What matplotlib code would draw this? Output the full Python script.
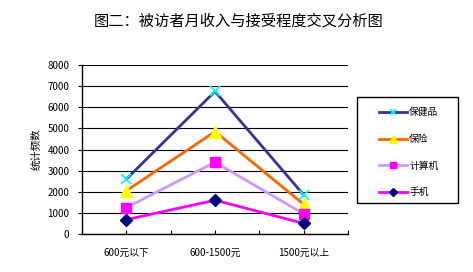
import matplotlib.pyplot as plt
from matplotlib.patches import Rectangle
import numpy as np

plt.rcParams['font.family'] = ['Noto Sans CJK SC', 'DejaVu Sans']

categories = ['600元以下', '600-1500元', '1500元以上']
health = [2600, 6750, 1850]
insurance = [2050, 4850, 1400]
computer = [1250, 3400, 950]
phone = [680, 1600, 500]

W, H = 473, 272
fig = plt.figure(figsize=(W / 100, H / 100), dpi=100)
ax = fig.add_axes([82 / W, 1 - 234 / H, 266 / W, 169 / H])

x = np.arange(len(categories))
ax.plot(x, health, color='#333399', lw=2, marker='x', ms=7, mec='#00FFFF', mew=1.2, label='保健品')
ax.plot(x, insurance, color='#FF6600', lw=2, marker='^', ms=8, mfc='#FFFF00', mec='#FFFF00', label='保险')
ax.plot(x, computer, color='#CC99FF', lw=2, marker='s', ms=7, mfc='#FF00FF', mec='#FF00FF', label='计算机')
ax.plot(x, phone, color='#FF00FF', lw=2, marker='D', ms=6, mfc='#000080', mec='#000080', label='手机')

ax.set_xlim(-0.5, 2.5)
ax.set_ylim(0, 8000)
ax.set_yticks(range(0, 8001, 1000))
ax.tick_params(axis='y', labelsize=7, length=3, width=0.8, pad=6)
ax.set_xticks(x)
ax.set_xticklabels(categories)
ax.set_xticks(np.arange(-0.5, 2.6, 1), minor=True)
ax.tick_params(axis='x', which='both', direction='in', length=3, width=0.8, labelsize=7, pad=10)
ax.yaxis.grid(True, color='black', lw=0.8)
ax.set_axisbelow(True)
for side in ['top', 'right']:
    ax.spines[side].set_visible(False)
for side in ['left', 'bottom']:
    ax.spines[side].set_linewidth(1)

ax.set_ylabel('统计频数', fontsize=7.5, labelpad=4)

fig.suptitle('图二：被访者月收入与接受程度交叉分析图', x=0.505, y=0.955, fontsize=11)

# legend box drawn separately so the padding can be wider than the entries need
fig.patches.append(Rectangle((357 / W, 1 - 203 / H), 101 / W, 106 / H, transform=fig.transFigure,
                             fill=False, edgecolor='black', lw=1))
fig.legend(loc='upper left', bbox_to_anchor=(379 / W, 1 - 107.5 / H), fontsize=7,
           frameon=False, handlelength=2.9, labelspacing=1.7, borderpad=0,
           handletextpad=0.2, markerscale=0.65, borderaxespad=0)

fig.savefig('out.png', dpi=100)
